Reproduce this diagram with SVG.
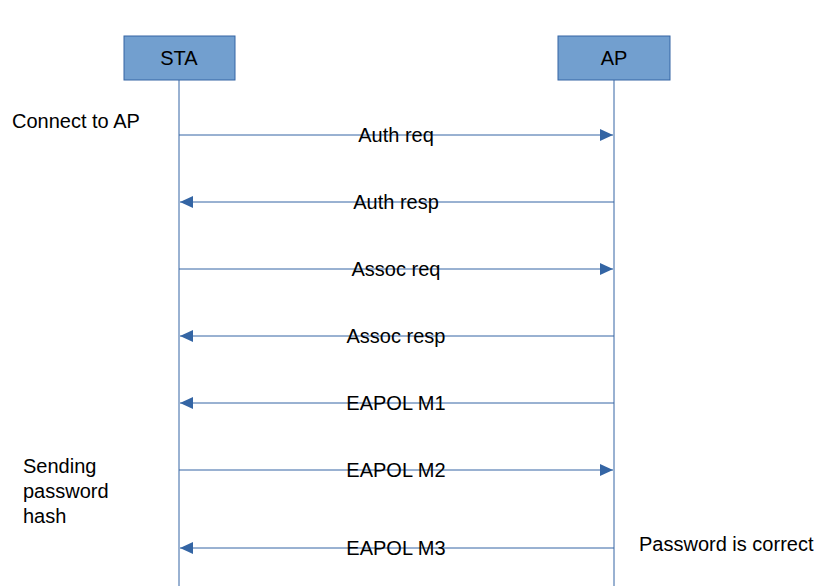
<svg xmlns="http://www.w3.org/2000/svg" width="834" height="586" viewBox="0 0 834 586">
<style>
text{font-family:"Liberation Sans",Arial,sans-serif;font-size:20px;fill:#000}
.box{fill:#729fcf;stroke:#3465a4;stroke-width:1}
.ll{stroke:#3465a4;stroke-width:1}
.msg{stroke:#3465a4;stroke-width:1;marker-end:url(#ah)}
.c{text-anchor:middle}
</style>
<defs><marker id="ah" markerWidth="13" markerHeight="12" refX="13" refY="6" orient="auto" markerUnits="userSpaceOnUse"><path d="M0,0L13,6L0,12z" fill="#3465a4"/></marker></defs>
<rect width="834" height="586" fill="#fff"/>
<g id="sta"><rect class="box" x="124" y="36" width="111" height="44"/><text class="c" x="179" y="65">STA</text><line class="ll" x1="179" y1="80" x2="179" y2="586"/></g>
<g id="ap"><rect class="box" x="558" y="36" width="112" height="44"/><text class="c" x="614" y="65">AP</text><line class="ll" x1="614" y1="80" x2="614" y2="586"/></g>
<g id="connectors">
<line class="msg" x1="179" y1="135" x2="613" y2="135"/>
<line class="msg" x1="614" y1="202" x2="180" y2="202"/>
<line class="msg" x1="179" y1="269" x2="613" y2="269"/>
<line class="msg" x1="614" y1="336" x2="180" y2="336"/>
<line class="msg" x1="614" y1="403" x2="180" y2="403"/>
<line class="msg" x1="179" y1="470" x2="613" y2="470"/>
<line class="msg" x1="614" y1="548" x2="180" y2="548"/>
</g>
<g id="labels">
<text class="c" x="396" y="142">Auth req</text>
<text class="c" x="396" y="209">Auth resp</text>
<text class="c" x="396" y="276">Assoc req</text>
<text class="c" x="396" y="343">Assoc resp</text>
<text class="c" x="396" y="410">EAPOL M1</text>
<text class="c" x="396" y="477">EAPOL M2</text>
<text class="c" x="396" y="555">EAPOL M3</text>
<text x="12" y="128">Connect to AP</text>
<text x="23" y="473">Sending</text>
<text x="23" y="498">password</text>
<text x="23" y="523">hash</text>
<text x="639" y="551">Password is correct</text>
</g>
</svg>
